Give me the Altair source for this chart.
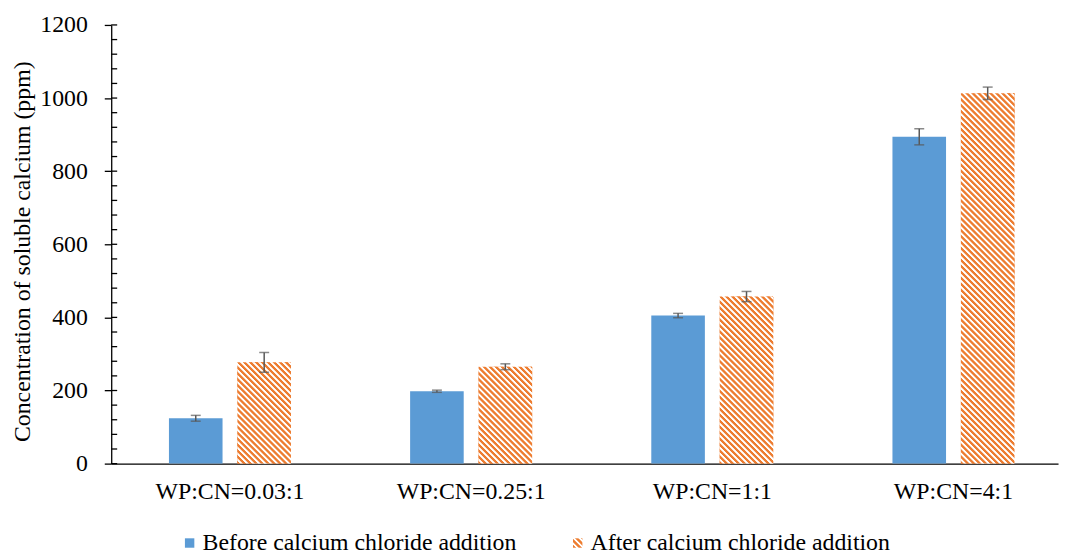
import json
import altair as alt
import pandas as pd

# ---------------- data ----------------
categories = ["WP:CN=0.03:1", "WP:CN=0.25:1", "WP:CN=1:1", "WP:CN=4:1"]
series = ["Before calcium chloride addition", "After calcium chloride addition"]
before_vals = [124, 198, 405, 894]
before_err = [8, 3, 6, 22]
after_vals = [277, 265, 457, 1013]
after_err = [27, 8, 14, 17]
y_ticks = [0, 200, 400, 600, 800, 1000, 1200]
minor_ticks = [0, 40, 80, 120, 160, 200, 240, 280, 320, 360, 400, 440, 480, 520,
               560, 600, 640, 680, 720, 760, 800, 840, 880, 920, 960, 1000, 1040,
               1080, 1120, 1160, 1200]
y_title = "Concentration of soluble calcium (ppm)"

# ---------------- style / layout ----------------
FONT = "Liberation Serif"
BLUE = "#5B9BD5"
ORANGE = "#ED7D31"
ERR = "#595959"
PLOT_W, PLOT_H, Y_MAX = 954, 442, 1200
X_PAD_IN, X_PAD_OUT, X_ALIGN = 0.494, 0.21, 0.57
OFF_PAD_IN = 0.217

step = PLOT_W / (len(categories) - X_PAD_IN + 2 * X_PAD_OUT)
group_w = step * (1 - X_PAD_IN)
off_step = group_w / (len(series) - OFF_PAD_IN)
bar_w = off_step * (1 - OFF_PAD_IN)


def hatch(W, H, period=6.0, frac=0.55, tw=1.0, fg=ORANGE, bg="#FFFFFF"):
    """Diagonal (top-left -> bottom-right) stripes as a linear gradient
    with slightly softened edges (to avoid moire)."""
    L = W + H
    g = (W + H) / (W * W + H * H)
    ow = period * frac - tw
    stops = []
    i = 0
    while i * period < L:
        s = i * period
        pts = [(s, fg), (s + ow, fg), (s + ow + tw, bg), (s + period - tw, bg)]
        for p, col in pts:
            stops.append({"offset": round(min(p / L, 1.0), 5), "color": col})
        i += 1
    return {"gradient": "linear", "x1": 0, "y1": 1,
            "x2": round(g * W, 6), "y2": round(1 - g * H, 6), "stops": stops}


rows = []
for i, c in enumerate(categories):
    rows.append({"category": c, "series": series[0], "value": before_vals[i],
                 "lo": before_vals[i] - before_err[i], "hi": before_vals[i] + before_err[i]})
    rows.append({"category": c, "series": series[1], "value": after_vals[i],
                 "lo": after_vals[i] - after_err[i], "hi": after_vals[i] + after_err[i]})
df = pd.DataFrame(rows)

xscale = alt.Scale(domain=categories, paddingInner=X_PAD_IN,
                   paddingOuter=X_PAD_OUT, align=X_ALIGN)
oscale = alt.Scale(domain=series, paddingInner=OFF_PAD_IN, paddingOuter=0)
yscale = alt.Scale(domain=[0, Y_MAX], nice=False, zero=True)

xaxis = alt.Axis(labelAngle=0, ticks=False, domainColor="#000", domainWidth=1.3,
                 labelPadding=16, labelFont=FONT, labelFontSize=24, labelColor="#000")
yaxis = alt.Axis(values=y_ticks, format="d", grid=False, tickSize=7, tickColor="#000",
                 tickWidth=1.3, domainColor="#000", domainWidth=1.3,
                 labelPadding=17, labelFont=FONT, labelFontSize=24,
                 labelColor="#000", titleFont=FONT, titleFontSize=24,
                 titleFontWeight="normal", titleColor="#000",
                 titleAngle=-90, titleX=-89, titleY=228,
                 titleAlign="center", titleBaseline="middle")


def X():
    return alt.X("category:N", scale=xscale, sort=categories, title=None, axis=xaxis)


def XO():
    return alt.XOffset("series:N", scale=oscale, sort=series)


def Y(field):
    return alt.Y(field, scale=yscale, title=y_title, axis=yaxis)


legend_grad = json.dumps(hatch(9.5, 9.5, period=6.0, tw=0.6))
cscale = alt.Scale(domain=series, range=[BLUE, {"expr": legend_grad}])

base = alt.Chart(df).mark_bar().encode(
    x=X(), xOffset=XO(), y=Y("value:Q"),
    color=alt.Color("series:N", scale=cscale, sort=series,
                    legend=alt.Legend(orient="none", legendX=67, legendY=510,
                                      direction="horizontal", title=None,
                                      symbolType="square", symbolSize=90,
                                      symbolStrokeWidth=0, labelFont=FONT,
                                      labelFontSize=24, labelColor="#000",
                                      labelLimit=600, labelOffset=1,
                                      columnPadding=49)),
)

layers = [base]
for i, c in enumerate(categories):
    H = after_vals[i] * PLOT_H / Y_MAX
    grad = hatch(bar_w, H)
    layers.append(
        alt.Chart(df).transform_filter(
            (alt.datum.category == c) & (alt.datum.series == series[1])
        ).mark_bar().encode(
            x=X(), xOffset=XO(), y=Y("value:Q"),
            color=alt.value(grad),
        )
    )

err_rule = alt.Chart(df).mark_rule(color=ERR, strokeWidth=1.5).encode(
    x=X(), xOffset=XO(), y=Y("lo:Q"), y2="hi:Q",
)
err_lo = alt.Chart(df).mark_tick(color=ERR, thickness=1.5, size=10).encode(
    x=X(), xOffset=XO(), y=Y("lo:Q"),
)
err_hi = alt.Chart(df).mark_tick(color=ERR, thickness=1.5, size=10).encode(
    x=X(), xOffset=XO(), y=Y("hi:Q"),
)
minor = alt.Chart(pd.DataFrame({"t": minor_ticks})).mark_rule(
    color="#000", strokeWidth=1.3).encode(
    y=Y("t:Q"),
    x=alt.value(0), x2=alt.value(6),
)

layers += [err_rule, err_lo, err_hi, minor]

chart = alt.layer(*layers).properties(
    width=PLOT_W, height=PLOT_H,
    autosize=alt.AutoSizeParams(type="none"),
    padding={"left": 104, "top": 15, "right": 5, "bottom": 90},
    background="white",
).configure_view(stroke=None)

chart.save("out.html", embed_options={"renderer": "svg", "actions": False})
